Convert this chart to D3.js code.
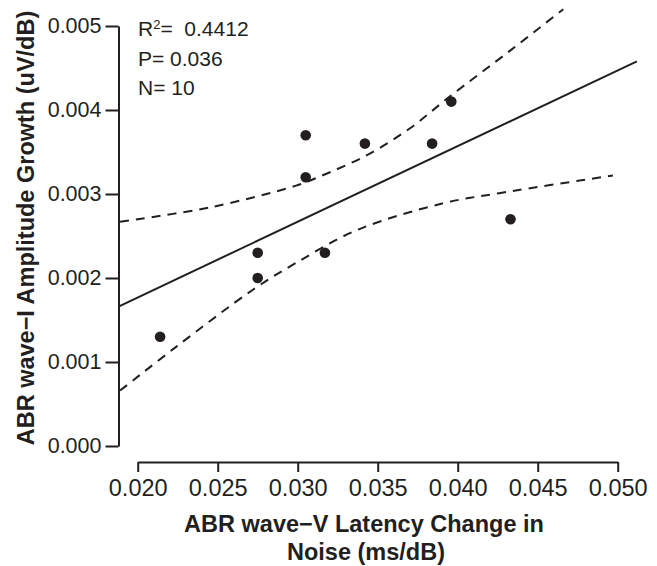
<!DOCTYPE html>
<html>
<head>
<meta charset="utf-8">
<script src="https://cdn.jsdelivr.net/npm/d3@7"></script>
<style>
  body { margin: 0; background: #fff; }
  svg { display: block; font-family: "Liberation Sans", Arial, sans-serif; }
</style>
</head>
<body>
<svg width="657" height="566"></svg>
<script>
// data
var latency = [0.0214, 0.0275, 0.0275, 0.0317, 0.0305, 0.0305, 0.0342, 0.0384, 0.0396, 0.0433];
var amplitude = [0.0013, 0.0023, 0.0020, 0.0023, 0.0037, 0.0032, 0.0036, 0.0036, 0.0041, 0.0027];

// fitted line end points
var fitX = [0.0188, 0.0512];
var fitY = [0.00166, 0.00458];

// 95% band, read as points along the dashed curves
var upperX = [0.0189, 0.0245, 0.0299, 0.0314, 0.0343, 0.0370, 0.0395, 0.0433, 0.0466];
var upperY = [0.00267, 0.00284, 0.00310, 0.00321, 0.00346, 0.00378, 0.00416, 0.00471, 0.00520];
var lowerX = [0.0189, 0.0224, 0.0272, 0.0299, 0.0337, 0.0391, 0.0426, 0.0497];
var lowerY = [0.00066, 0.00118, 0.00186, 0.00218, 0.00257, 0.00289, 0.00301, 0.00322];

var xTicks = [0.020, 0.025, 0.030, 0.035, 0.040, 0.045, 0.050];
var yTicks = [0.000, 0.001, 0.002, 0.003, 0.004, 0.005];
var statLines = ["P= 0.036", "N= 10"];

var ink = "#231f20";
var svg = d3.select("svg");

var x = d3.scaleLinear().domain([0.02, 0.05]).range([137.7, 617.7]);
var y = d3.scaleLinear().domain([0, 0.005]).range([446, 26]);

// y axis
var gy = svg.append("g")
  .attr("transform", "translate(118.5,0)")
  .call(d3.axisLeft(y).tickValues(yTicks).tickFormat(d3.format(".3f")).tickSize(13).tickSizeOuter(0).tickPadding(4));

// x axis
var gx = svg.append("g")
  .attr("transform", "translate(0,462)")
  .call(d3.axisBottom(x).tickValues(xTicks).tickFormat(d3.format(".3f")).tickSize(10).tickSizeOuter(0).tickPadding(7));

[gx, gy].forEach(function (g) {
  g.select(".domain").attr("stroke", ink).attr("stroke-width", 2);
  g.selectAll(".tick line").attr("stroke", ink).attr("stroke-width", 2);
  g.selectAll(".tick text").attr("fill", ink).attr("font-family", "Liberation Sans, Arial, sans-serif");
});
gy.selectAll(".tick text").attr("font-size", "21.5px");
gx.selectAll(".tick text").attr("font-size", "23.5px");

// axis titles
svg.append("text")
  .attr("transform", "translate(34," + 228 + ") rotate(-90)")
  .style("text-anchor", "middle")
  .attr("font-size", "23.5px")
  .attr("font-weight", "bold")
  .attr("fill", ink)
  .text("ABR wave\u2212I Amplitude Growth (uV/dB)");

svg.append("text")
  .attr("x", 364)
  .attr("y", 532)
  .style("text-anchor", "middle")
  .attr("font-size", "23.5px")
  .attr("font-weight", "bold")
  .attr("fill", ink)
  .text("ABR wave\u2212V Latency Change in");

svg.append("text")
  .attr("x", 366)
  .attr("y", 560)
  .style("text-anchor", "middle")
  .attr("font-size", "23.5px")
  .attr("font-weight", "bold")
  .attr("fill", ink)
  .text("Noise (ms/dB)");

// lines
var line = d3.line()
  .x(function (d) { return x(d[0]); })
  .y(function (d) { return y(d[1]); });

svg.append("path")
  .datum(d3.zip(fitX, fitY))
  .attr("d", line)
  .attr("fill", "none")
  .attr("stroke", ink)
  .attr("stroke-width", 2);

var band = d3.line()
  .x(function (d) { return x(d[0]); })
  .y(function (d) { return y(d[1]); })
  .curve(d3.curveCatmullRom.alpha(0.5));

[d3.zip(upperX, upperY), d3.zip(lowerX, lowerY)].forEach(function (pts) {
  svg.append("path")
    .datum(pts)
    .attr("d", band)
    .attr("fill", "none")
    .attr("stroke", ink)
    .attr("stroke-width", 2)
    .attr("stroke-dasharray", "9,7");
});

// points
svg.append("g").selectAll("circle")
  .data(d3.zip(latency, amplitude))
  .enter().append("circle")
  .attr("cx", function (d) { return x(d[0]); })
  .attr("cy", function (d) { return y(d[1]); })
  .attr("r", 5.3)
  .attr("fill", ink);

// stats
var stats = svg.append("g").attr("fill", ink).attr("font-size", "21px");
var r2 = stats.append("text").attr("x", 138).attr("y", 36);
r2.append("tspan").text("R");
r2.append("tspan").attr("font-size", "13px").attr("dy", -7).text("2");
r2.append("tspan").attr("dy", 7).text("=\u00a0 0.4412");
stats.selectAll(".stat")
  .data(statLines)
  .enter().append("text")
  .attr("class", "stat")
  .attr("x", 138)
  .attr("y", function (d, i) { return 65.5 + i * 29; })
  .text(function (d) { return d; });
</script>
</body>
</html>
